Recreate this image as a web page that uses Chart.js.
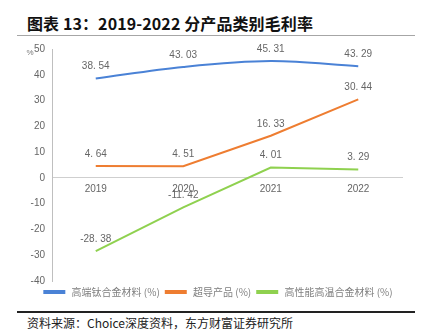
<!DOCTYPE html>
<html>
<head>
<meta charset="utf-8">
<script src="https://cdn.jsdelivr.net/npm/chart.js@4/dist/chart.umd.min.js"></script>
<style>
  html, body { margin: 0; padding: 0; background: #fff; }
  body { width: 437px; height: 332px; position: relative; overflow: hidden;
         font-family: "Noto Sans CJK SC", "Noto Sans", sans-serif; }
  #title { position: absolute; left: 27px; top: 11px; font-size: 16px; font-weight: bold;
           color: #111; white-space: nowrap; letter-spacing: 0.1px; }
  #rule-top { position: absolute; left: 17px; top: 35px; width: 398px; height: 1px; background: #a6a6a6; }
  #rule-bottom { position: absolute; left: 17px; top: 311px; width: 398px; height: 1.5px; background: #222; }
  #source { position: absolute; left: 27px; top: 314px; font-size: 12px; color: #222; white-space: nowrap; }
  #wrap { position: absolute; left: 0; top: 36px; width: 437px; height: 275px; }
</style>
</head>
<body>
<div id="title">图表 13：2019-2022 分产品类别毛利率</div>
<div id="rule-top"></div>
<div id="wrap"><canvas id="c"></canvas></div>
<div id="rule-bottom"></div>
<div id="source">资料来源：Choice深度资料，东方财富证券研究所</div>
<script>
// Gross margin by product line, 2019-2022 (%)
const years = ['2019', '2020', '2021', '2022'];
const titaniumAlloy = [38.54, 43.03, 45.31, 43.29];
const superconductor = [4.64, 4.51, 16.33, 30.44];
const superalloy = [-28.38, -11.42, 4.01, 3.29];
const seriesNames = ['高端钛合金材料 (%)', '超导产品 (%)', '高性能高温合金材料 (%)'];
const yTicks = [50, 40, 30, 20, 10, 0, -10, -20, -30, -40];

const seriesColors = ['#4a82d6', '#ee7d31', '#8fd14f'];
const seriesData = [titaniumAlloy, superconductor, superalloy];

const fmt = v => v.toFixed(2).replace('.', '. ');

// value labels above each point
const pointLabels = {
  id: 'pointLabels',
  afterDatasetsDraw(chart) {
    const ctx = chart.ctx;
    ctx.save();
    ctx.font = '10px "Liberation Sans", Arial, sans-serif';
    ctx.fillStyle = '#666';
    ctx.textAlign = 'center';
    ctx.textBaseline = 'middle';
    chart.data.datasets.forEach((ds, i) => {
      chart.getDatasetMeta(i).data.forEach((pt, j) => {
        ctx.fillText(fmt(ds.data[j]), pt.x, pt.y - 12);
      });
    });
    ctx.restore();
  }
};

// unit mark at the top of the value axis
const unitMark = {
  id: 'unitMark',
  afterDraw(chart) {
    const y = chart.scales.y;
    const ctx = chart.ctx;
    ctx.save();
    ctx.font = '8px "Liberation Sans", Arial, sans-serif';
    ctx.fillStyle = '#777';
    ctx.textAlign = 'center';
    ctx.textBaseline = 'middle';
    ctx.fillText('%', 30, y.getPixelForValue(50) + 4);
    ctx.restore();
  }
};

new Chart(document.getElementById('c'), {
  type: 'line',
  data: {
    labels: years,
    datasets: seriesData.map((d, i) => ({
      label: seriesNames[i],
      data: d,
      borderColor: seriesColors[i],
      backgroundColor: seriesColors[i],
      borderWidth: 2,
      pointRadius: 0,
      tension: i === 0 ? 0.35 : 0,
      fill: false
    }))
  },
  options: {
    responsive: true,
    maintainAspectRatio: false,
    animation: false,
    layout: { padding: { top: 10, right: 0, bottom: 4, left: 0 } },
    plugins: {
      legend: {
        position: 'bottom',
        labels: {
          boxWidth: 20,
          boxHeight: 2,
          padding: 6,
          color: '#7f7f7f',
          font: { size: 10, family: '"Noto Sans CJK SC", sans-serif' },
          generateLabels(chart) {
            const items = Chart.defaults.plugins.legend.labels.generateLabels(chart);
            items.forEach(it => { it.text = ' ' + it.text; });
            return items;
          }
        }
      },
      tooltip: { enabled: false }
    },
    scales: {
      x: {
        type: 'category',
        position: { y: 0 },
        offset: true,
        grid: { display: false, drawTicks: false },
        border: { display: true, color: '#cfcfcf', width: 1 },
        ticks: {
          padding: 5,
          color: '#666',
          font: { size: 10, family: '"Liberation Sans", Arial, sans-serif' }
        }
      },
      y: {
        min: -40,
        max: 50,
        afterBuildTicks(scale) { scale.ticks = yTicks.map(v => ({ value: v })); },
        afterFit(scale) { scale.width = 52; },
        grid: { display: false, drawTicks: false },
        border: { display: true, color: '#bfbfbf', width: 1 },
        ticks: {
          padding: 7,
          color: '#666',
          font: { size: 10, family: '"Liberation Sans", Arial, sans-serif' }
        }
      },
      // empty right-hand gutter so the legend stays centred on the page
      yRight: {
        position: 'right',
        display: true,
        min: -40,
        max: 50,
        afterFit(scale) { scale.width = 35; },
        grid: { display: false, drawTicks: false },
        border: { display: false },
        ticks: { display: false }
      }
    }
  },
  plugins: [pointLabels, unitMark]
});
</script>
</body>
</html>
